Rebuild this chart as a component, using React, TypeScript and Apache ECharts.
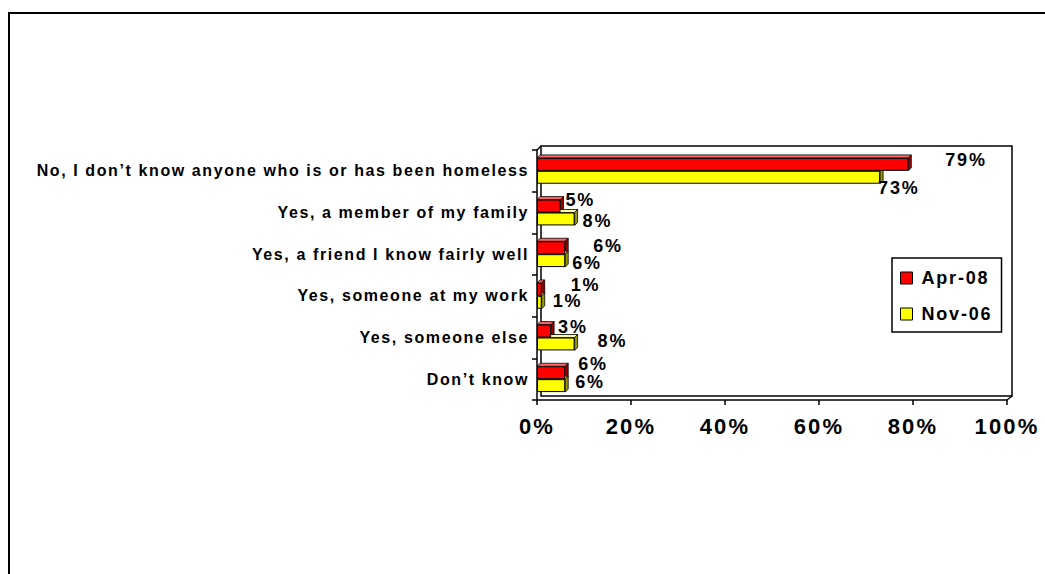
import React, { useEffect, useRef } from "react";
import * as echarts from "echarts";

const categories = [
  "No, I don\u2019t know anyone who is or has been homeless",
  "Yes, a member of my family",
  "Yes, a friend I know fairly well",
  "Yes, someone at my work",
  "Yes, someone else",
  "Don\u2019t know",
];
const seriesNames = ["Apr-08", "Nov-06"];
const apr08 = [79, 5, 6, 1, 3, 6];
const nov06 = [73, 8, 6, 1, 8, 6];

// label placement offsets (styling only)
const aprLabelOffsets = [[37, -4], [5, -6], [28, -2], [29, -4], [7, -4], [13, -9]];
const novLabelOffsets = [[-2, 11], [8, 2], [7, 2], [11, -1], [23, -3], [10, -4]];

const FONT = "Arial, 'Liberation Sans', sans-serif";
const GAP = 0.38;
const DEPTH = 3;

export default function App() {
  const ref = useRef<HTMLDivElement>(null);
  useEffect(() => {
    if (!ref.current) return;
    const chart = echarts.init(ref.current, null, { renderer: "svg" });

    const depthSeries = (vals: number[], k: number, topColor: string, sideColor: string) => ({
      type: "custom",
      name: seriesNames[k] + " depth",
      silent: true,
      z: 1,
      data: vals.map((v, i) => [v, i]),
      encode: { x: 0, y: 1 },
      renderItem: (params: any, api: any) => {
        const v = api.value(0);
        const cat = api.value(1);
        const end = api.coord([v, cat]);
        const start = api.coord([0, cat]);
        const band = api.size([0, 1])[1];
        const bw = (band * (1 - GAP)) / 2;
        const top = end[1] - bw + k * bw;
        const bottom = top + bw;
        const x0 = start[0];
        const x1 = end[0];
        const d = DEPTH;
        return {
          type: "group",
          children: [
            {
              type: "polygon",
              shape: { points: [[x0, top], [x0 + d, top - d], [x1 + d, top - d], [x1, top]] },
              style: { fill: topColor, stroke: "#000", lineWidth: 0.8 },
            },
            {
              type: "polygon",
              shape: { points: [[x1, top], [x1 + d, top - d], [x1 + d, bottom - d], [x1, bottom]] },
              style: { fill: sideColor, stroke: "#000", lineWidth: 0.8 },
            },
          ],
        };
      },
    });

    const barSeries = (vals: number[], k: number, color: string, offsets: number[][]) => ({
      type: "bar",
      name: seriesNames[k],
      z: 2,
      barGap: "0%",
      barCategoryGap: "38%",
      itemStyle: { color, borderColor: "#000", borderWidth: 1 },
      data: vals.map((v, i) => ({
        value: v,
        label: { offset: offsets[i] },
      })),
      label: {
        show: true,
        position: "right",
        distance: 0,
        formatter: "{c}%",
        color: "#000",
        fontFamily: FONT,
        fontWeight: "bold",
        fontSize: 18,
      },
    });

    chart.setOption({
      animation: false,
      backgroundColor: "#fff",
      grid: { left: 537, top: 150, width: 470, height: 250, containLabel: false },
      xAxis: {
        type: "value",
        min: 0,
        max: 100,
        interval: 20,
        axisLine: { show: true, lineStyle: { color: "#000", width: 1.5 } },
        axisTick: { show: true, inside: false, length: 5, lineStyle: { color: "#000", width: 1.5 } },
        splitLine: { show: false },
        axisLabel: {
          formatter: "{value}%",
          color: "#000",
          fontFamily: FONT,
          fontWeight: "bold",
          fontSize: 22,
          margin: 15,
        },
      },
      yAxis: {
        type: "category",
        inverse: true,
        data: categories,
        axisLine: { show: true, lineStyle: { color: "#000", width: 1.5 } },
        axisTick: { show: true, inside: false, length: 5, lineStyle: { color: "#000", width: 1.5 } },
        axisLabel: {
          color: "#000",
          fontFamily: FONT,
          fontWeight: "bold",
          fontSize: 16,
          margin: 8,
        },
      },
      legend: {
        data: [
          { name: seriesNames[0], icon: "rect" },
          { name: seriesNames[1], icon: "rect" },
        ],
        orient: "vertical",
        left: 892,
        top: 258,
        padding: [11, 20, 9, 8],
        itemGap: 18,
        itemWidth: 12,
        itemHeight: 12,
        itemStyle: { borderColor: "#000", borderWidth: 1 },
        borderColor: "#000",
        borderWidth: 1.5,
        backgroundColor: "#fff",
        textStyle: { color: "#000", fontFamily: FONT, fontWeight: "bold", fontSize: 18, padding: [0, 0, 0, 4] },
      },
      graphic: [
        {
          type: "rect",
          shape: { x: 9, y: 13, width: 1100, height: 700 },
          style: { fill: "none", stroke: "#000", lineWidth: 2 },
          silent: true,
        },
        {
          type: "rect",
          shape: { x: 541, y: 146, width: 471, height: 250 },
          style: { fill: "none", stroke: "#000", lineWidth: 1.5 },
          silent: true,
          z: 0,
        },
        {
          type: "line",
          shape: { x1: 537, y1: 150, x2: 541, y2: 146 },
          style: { stroke: "#000", lineWidth: 1.5 },
          silent: true,
        },
        {
          type: "line",
          shape: { x1: 1007, y1: 400, x2: 1012, y2: 396 },
          style: { stroke: "#000", lineWidth: 1.5 },
          silent: true,
        },
      ],
      series: [
        depthSeries(apr08, 0, "#ff6666", "#990000"),
        depthSeries(nov06, 1, "#ffff99", "#999900"),
        barSeries(apr08, 0, "#ff0000", aprLabelOffsets),
        barSeries(nov06, 1, "#ffff00", novLabelOffsets),
      ],
    });
    return () => chart.dispose();
  }, []);

  return (
    <>
      <style>{`.chart-root svg text { letter-spacing: 0.1em; }`}</style>
      <div
        ref={ref}
        className="chart-root"
        style={{ position: "absolute", left: 0, top: 0, width: 1045, height: 574 }}
      />
    </>
  );
}
